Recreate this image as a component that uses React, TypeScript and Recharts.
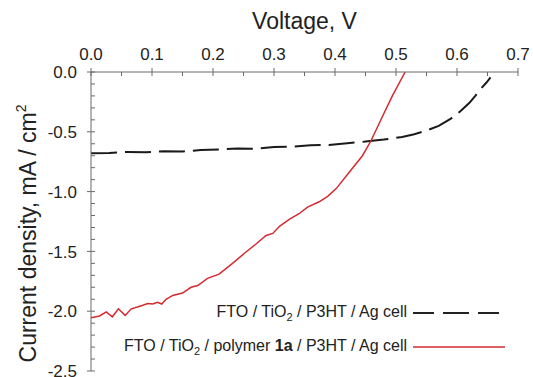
import React from 'react';
import { LineChart, Line, XAxis, YAxis, Legend, Label } from 'recharts';

const voltageTicks = [0, 0.05, 0.1, 0.15, 0.2, 0.25, 0.3, 0.35, 0.4, 0.45, 0.5, 0.55, 0.6, 0.65, 0.7];
const voltageLabels = ['0.0', '0.1', '0.2', '0.3', '0.4', '0.5', '0.6', '0.7'];
const currentTicks = [0, -0.1, -0.2, -0.3, -0.4, -0.5, -0.6, -0.7, -0.8, -0.9, -1.0, -1.1, -1.2, -1.3, -1.4, -1.5, -1.6, -1.7, -1.8, -1.9, -2.0, -2.1, -2.2, -2.3, -2.4, -2.5];
const currentLabels = ['0.0', '-0.5', '-1.0', '-1.5', '-2.0', '-2.5'];

const p3htV = [0, 0.03, 0.06, 0.09, 0.12, 0.15, 0.18, 0.21, 0.24, 0.27, 0.3, 0.33, 0.36, 0.39, 0.42, 0.45, 0.48, 0.51, 0.53, 0.55, 0.57, 0.59, 0.605, 0.62, 0.63, 0.64, 0.648, 0.655];
const p3htJ = [-0.68, -0.677, -0.668, -0.672, -0.662, -0.665, -0.652, -0.648, -0.64, -0.642, -0.628, -0.625, -0.612, -0.61, -0.596, -0.582, -0.565, -0.543, -0.52, -0.49, -0.45, -0.39, -0.33, -0.26, -0.2, -0.135, -0.09, -0.045];

const polyV = [0, 0.014, 0.025, 0.035, 0.045, 0.056, 0.066, 0.076, 0.085, 0.093, 0.101, 0.109, 0.116, 0.123, 0.134, 0.15, 0.164, 0.175, 0.191, 0.21, 0.232, 0.254, 0.27, 0.287, 0.298, 0.309, 0.325, 0.341, 0.355, 0.374, 0.388, 0.402, 0.423, 0.445, 0.459, 0.478, 0.494, 0.515];
const polyJ = [-2.055, -2.04, -2.005, -2.047, -1.98, -2.035, -1.98, -1.965, -1.95, -1.935, -1.94, -1.925, -1.94, -1.9, -1.868, -1.848, -1.8, -1.785, -1.725, -1.69, -1.6, -1.505, -1.44, -1.367, -1.35, -1.29, -1.233, -1.185, -1.13, -1.085, -1.04, -0.975, -0.84, -0.7, -0.575, -0.37, -0.2, 0];

const p3htData = p3htV.map((v, i) => ({ v, j: p3htJ[i] }));
const polyData = polyV.map((v, i) => ({ v, j: polyJ[i] }));

const AXIS = '#6a6a6a';
const FONT = '"Liberation Sans", Arial, sans-serif';
const X_MARGIN = 12;
const Y_MARGIN = 14;

const fmt = (n: number) => n.toFixed(1);

const XTick = (props: any) => {
  const { x, y, payload } = props;
  const axisY = y + X_MARGIN;
  const label = fmt(payload.value);
  const major = voltageLabels.includes(label) && Math.abs(payload.value * 10 - Math.round(payload.value * 10)) < 1e-6;
  return (
    <g>
      <line x1={x} x2={x} y1={major ? axisY - 4 : axisY} y2={axisY + 4} stroke={AXIS} strokeWidth={1} />
      {major && (
        <text x={x} y={y} textAnchor="middle" fontSize={17} fontFamily={FONT} fill="#222">{label}</text>
      )}
    </g>
  );
};

const YTick = (props: any) => {
  const { x, y, payload } = props;
  const axisX = x + Y_MARGIN;
  const label = fmt(payload.value);
  const major = currentLabels.includes(label) && Math.abs(payload.value * 2 - Math.round(payload.value * 2)) < 1e-6;
  return (
    <g>
      <line x1={major ? axisX - 4 : axisX} x2={axisX + 4} y1={y} y2={y} stroke={AXIS} strokeWidth={1} />
      {major && (
        <text x={x} y={y} dy="0.36em" textAnchor="end" fontSize={17} fontFamily={FONT} fill="#222">{label}</text>
      )}
    </g>
  );
};

const Sample = ({ dashed, color }: { dashed: boolean; color: string }) => (
  <svg width={92} height={6} style={{ marginLeft: 6, display: 'block' }}>
    <line x1={0} x2={92} y1={3} y2={3} stroke={color} strokeWidth={dashed ? 2 : 1.5} strokeDasharray={dashed ? '21 9 26 9' : undefined} />
  </svg>
);

const LegendContent = () => (
  <div style={{ fontFamily: FONT, fontSize: 16, color: '#222' }}>
    <div style={{ display: 'flex', alignItems: 'center', justifyContent: 'flex-end', height: 34 }}>
      <span>FTO / TiO<sub style={{ fontSize: 11 }}>2</sub> / P3HT / Ag cell</span>
      <Sample dashed color="#222" />
    </div>
    <div style={{ display: 'flex', alignItems: 'center', justifyContent: 'flex-end', height: 34 }}>
      <span>FTO / TiO<sub style={{ fontSize: 11 }}>2</sub> / polymer <b>1a</b> / P3HT / Ag cell</span>
      <Sample dashed={false} color="#d42a30" />
    </div>
  </div>
);

export default function App() {
  return (
    <div style={{ position: 'absolute', left: 0, top: 0, background: '#fff' }}>
      <LineChart width={533} height={377} margin={{ top: 2, right: 15, bottom: 6, left: 1 }}>
        <XAxis
          xAxisId="top"
          dataKey="v"
          type="number"
          orientation="top"
          domain={[0, 0.7]}
          ticks={voltageTicks}
          interval={0}
          height={70}
          tickSize={0}
          tickMargin={X_MARGIN}
          tick={<XTick />}
          axisLine={{ stroke: AXIS }}
          tickLine={false}
          allowDataOverflow
        >
          <Label
            content={(p: any) => {
              const vb = p.viewBox;
              return (
                <text x={vb.x + vb.width / 2} y={vb.y + 27} textAnchor="middle" fontSize={23} fontFamily={FONT} fill="#222">Voltage, V</text>
              );
            }}
          />
        </XAxis>
        <XAxis xAxisId="bottom" dataKey="v" type="number" orientation="bottom" domain={[0, 0.7]} height={0} tick={false} tickLine={false} axisLine={{ stroke: AXIS }} />
        <YAxis
          yAxisId="left"
          dataKey="j"
          type="number"
          domain={[-2.5, 0]}
          ticks={currentTicks}
          interval={0}
          width={90}
          tickSize={0}
          tickMargin={Y_MARGIN}
          tick={<YTick />}
          axisLine={{ stroke: AXIS }}
          tickLine={false}
          allowDataOverflow
        >
          <Label
            content={(p: any) => {
              const vb = p.viewBox;
              const cx = vb.x + 35;
              const cy = vb.y + vb.height / 2 + 12;
              return (
                <text x={cx} y={cy} transform={`rotate(-90 ${cx} ${cy})`} textAnchor="middle" fontSize={23} fontFamily={FONT} fill="#222">
                  Current density, mA / cm<tspan dy={-10} fontSize={14}>2</tspan>
                </text>
              );
            }}
          />
        </YAxis>
        <YAxis yAxisId="right" dataKey="j" type="number" orientation="right" domain={[-2.5, 0]} width={0} tick={false} tickLine={false} axisLine={{ stroke: AXIS }} />
        <Legend
          layout="horizontal"
          verticalAlign="middle"
          align="center"
          content={<LegendContent />}
          wrapperStyle={{ position: 'absolute', top: 296, right: 28, left: 'auto', bottom: 'auto', width: 'auto' }}
        />
        <Line
          xAxisId="top"
          yAxisId="left"
          data={p3htData}
          dataKey="j"
          type="linear"
          stroke="#1a1a1a"
          strokeWidth={2}
          strokeDasharray="26 8"
          dot={false}
          isAnimationActive={false}
          name="FTO / TiO2 / P3HT / Ag cell"
        />
        <Line
          xAxisId="top"
          yAxisId="left"
          data={polyData}
          dataKey="j"
          type="linear"
          stroke="#d42a30"
          strokeWidth={1.5}
          dot={false}
          isAnimationActive={false}
          name="FTO / TiO2 / polymer 1a / P3HT / Ag cell"
        />
      </LineChart>
    </div>
  );
}
